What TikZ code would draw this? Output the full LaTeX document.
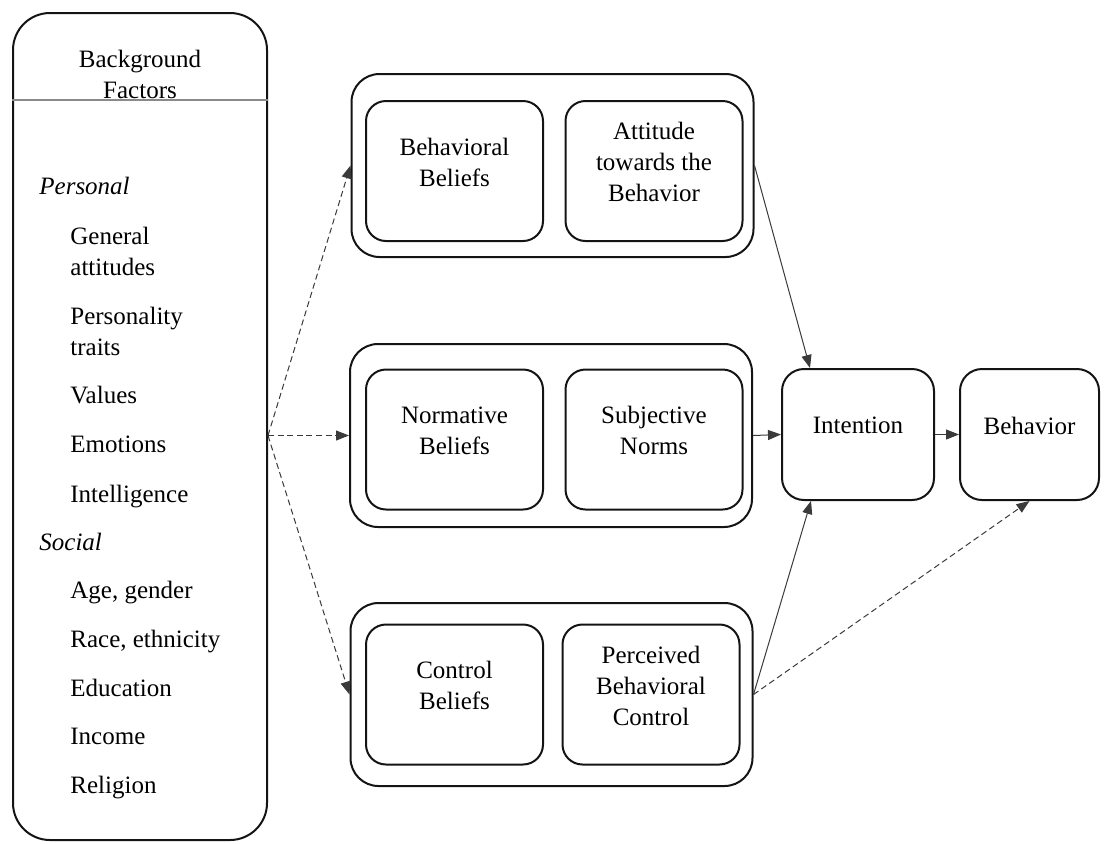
\documentclass[tikz,border=0pt]{standalone}
\usepackage{fontspec}
\setmainfont{Liberation Serif}
\usetikzlibrary{arrows.meta,calc}
\definecolor{ink}{HTML}{141414}
\definecolor{ink3}{HTML}{3A3A3A}
\definecolor{rule}{HTML}{8A8A8A}
\newcommand{\tpbfont}{\fontsize{12.5}{15.5}\selectfont}
\tikzset{
  bgbox/.style={draw=ink, line width=1pt, rounded corners=18.5pt, inner sep=0pt,
                minimum width=127pt, minimum height=413.5pt},
  grp/.style={draw=ink, line width=1pt, rounded corners=14pt, inner sep=0pt,
              minimum width=201pt, minimum height=91.5pt},
  inbox/.style={draw=ink, line width=1pt, rounded corners=10pt, align=center, font=\tpbfont,
                inner sep=2pt, text depth=9pt, minimum width=88.5pt, minimum height=70pt},
  outbox/.style={inbox, rounded corners=11pt, minimum height=65.5pt},
  head/.style={anchor=south, inner sep=0pt, text depth=0pt, align=center, font=\tpbfont},
  cat/.style={anchor=south west, inner sep=0pt, text depth=0pt, font=\tpbfont\itshape},
  item/.style={cat, align=left, font=\tpbfont},
  % ---- connectors ----
  dflow/.style={-{Triangle[length=6.5pt,width=5pt]}, dashed, dash pattern=on 3pt off 1.8pt,
                line width=0.5pt, draw=ink3},
  sflow/.style={-{Triangle[length=6.5pt,width=5pt]}, line width=0.5pt, draw=ink3},
}

\begin{document}
\begin{tikzpicture}[x=0.5pt, y=-0.5pt]
\useasboundingbox (0,0) rectangle (1104,843);
% background factors
\node[bgbox] (bg) at (140,426.5) {};
\coordinate (divy) at (0,100);
\draw[rule, line width=0.6pt] (bg.west |- divy) -- (bg.east |- divy);
\node[head] (bgt) at (140,99) {Background\\Factors};
\node[cat] (pers) at (39,195) {Personal};
\node[item] (genatt) at (70,276) {General\\attitudes};
\node[item] (ptraits) at (70,356) {Personality\\traits};
\node[item] (vals) at (70,404) {Values};
\node[item] (emo) at (70,453) {Emotions};
\node[item] (intel) at (70,503) {Intelligence};
\node[cat] (soc) at (39,551) {Social};
\node[item] (agegen) at (70,599) {Age, gender};
\node[item] (race) at (70,648) {Race, ethnicity};
\node[item] (edu) at (70,697) {Education};
\node[item] (inc) at (70,745) {Income};
\node[item] (rel) at (70,794) {Religion};
% belief groups
\node[grp] (gatt) at (552.5,165.5) {};
\node[inbox] (bbel) at (454.5,171) {Behavioral\\Beliefs};
\node[inbox] (att) at (654,171) {Attitude\\towards the\\Behavior};
\node[grp] (gnorm) at (551,435.5) {};
\node[inbox] (nbel) at (454.5,439.5) {Normative\\Beliefs};
\node[inbox] (snorm) at (654,439.5) {Subjective\\Norms};
\node[grp] (gctrl) at (551.5,694.5) {};
\node[inbox] (cbel) at (454.5,694.5) {Control\\Beliefs};
\node[inbox] (pbc) at (651,694.5) {Perceived\\Behavioral\\Control};
% intention, behavior
\node[outbox, minimum width=76pt] (int) at (858,434.5) {Intention};
\node[outbox, minimum width=69.5pt] (beh) at (1029.5,434.5) {Behavior};
% links
\coordinate (bgout) at (bg.east |- gnorm.west);
\foreach \g in {gatt,gnorm,gctrl}{ \draw[dflow] (bgout) -- (\g.west); }
\draw[sflow] (gatt.east) -- ([xshift=14.5pt]int.north west);
\draw[sflow] (gnorm.east) -- (int.west);
\draw[sflow] (gctrl.east) -- ([xshift=15pt]int.south west);
\draw[sflow] (int.east) -- (beh.west);
\draw[dflow] (gctrl.east) -- (beh.south);
\end{tikzpicture}
\end{document}
